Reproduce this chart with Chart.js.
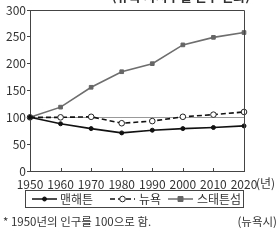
<!DOCTYPE html>
<html><head><meta charset="utf-8">
<script src="https://cdn.jsdelivr.net/npm/chart.js@4"></script>
<style>html,body{margin:0;padding:0;background:#fff;}#wrap{width:278px;height:241px;position:relative;}</style>
</head><body><div id="wrap"><canvas id="c" width="278" height="241"></canvas></div>
<script>
const years = ['1950','1960','1970','1980','1990','2000','2010','2020'];
const manhattan = [100, 88, 79, 71, 76, 79, 81, 84];
const newYork = [100, 100, 101, 89, 93, 101, 105, 110];
const statenIsland = [100, 119, 156, 185, 200, 235, 249, 258];
const yTicks = [0, 50, 100, 150, 200, 250, 300];
const seriesNames = ['맨해튼', '뉴욕', '스태튼섬'];
const yearUnit = '(년)';
const titleText = '(뉴욕 자치구별 인구 변화)';
const noteText = '* 1950년의 인구를 100으로 함.';
const sourceText = '(뉴욕시)';

const FONT = '"Noto Sans CJK KR", "Noto Sans", sans-serif';
const TXT = '#333';

const extras = {
  id: 'extras',
  afterDraw(chart) {
    const {ctx, chartArea: a, scales} = chart;
    ctx.save();
    ctx.strokeStyle = '#444'; ctx.lineWidth = 1;
    ctx.beginPath();
    ctx.moveTo(a.left, a.top + 0.5); ctx.lineTo(a.right + 0.5, a.top + 0.5); ctx.lineTo(a.right + 0.5, a.bottom);
    ctx.stroke();
    ctx.beginPath();
    years.forEach((y, i) => {
      const x = Math.round(scales.x.getPixelForValue(i)) + 0.5;
      ctx.moveTo(x, a.bottom); ctx.lineTo(x, a.bottom - 3);
    });
    ctx.stroke();
    ctx.fillStyle = TXT;
    ctx.font = '12px ' + FONT;
    ctx.textBaseline = 'middle';
    ctx.textAlign = 'left';
    const lx = scales.x.getPixelForValue(years.length - 1);
    ctx.fillText(yearUnit, lx + 12, 183);
    ctx.font = 'bold 13px ' + FONT;
    ctx.textAlign = 'center'; ctx.textBaseline = 'alphabetic';
    ctx.fillText(titleText, 181, 1);
    const ly = 199;
    ctx.strokeStyle = '#444';
    ctx.strokeRect(25.5, 190.5, 218, 17);
    const ds = chart.data.datasets;
    const items = [
      {x0: 32, x1: 57, tx: 60},
      {x0: 110, x1: 135, tx: 139},
      {x0: 168, x1: 193, tx: 197}
    ];
    items.forEach((it, i) => {
      const d = ds[i];
      ctx.strokeStyle = d.borderColor; ctx.lineWidth = 1.5;
      ctx.setLineDash(d.borderDash || []);
      ctx.beginPath(); ctx.moveTo(it.x0, ly); ctx.lineTo(it.x1, ly); ctx.stroke();
      ctx.setLineDash([]);
      const cx = (it.x0 + it.x1) / 2;
      ctx.fillStyle = d.pointBackgroundColor; ctx.strokeStyle = d.pointBorderColor; ctx.lineWidth = 1;
      ctx.beginPath();
      if (d.pointStyle === 'rect') { ctx.rect(cx - 2.5, ly - 2.5, 5, 5); }
      else { ctx.arc(cx, ly, d.pointRadius, 0, Math.PI * 2); }
      ctx.fill(); ctx.stroke();
      ctx.fillStyle = TXT; ctx.font = '12px ' + FONT; ctx.textAlign = 'left'; ctx.textBaseline = 'middle';
      ctx.fillText(seriesNames[i], it.tx, ly);
    });
    ctx.font = '11.5px ' + FONT; ctx.fillStyle = TXT;
    ctx.textAlign = 'left'; ctx.fillText(noteText, 3, 222);
    ctx.textAlign = 'right'; ctx.fillText(sourceText, 277, 222);
    ctx.restore();
  }
};

new Chart(document.getElementById('c'), {
  type: 'line',
  data: {
    labels: years,
    datasets: [
      {label: seriesNames[0], data: manhattan, borderColor: '#111', borderWidth: 1.6,
       pointStyle: 'circle', pointRadius: 2, pointBackgroundColor: '#111', pointBorderColor: '#111', pointBorderWidth: 1, tension: 0},
      {label: seriesNames[1], data: newYork, borderColor: '#111', borderWidth: 1.6, borderDash: [5, 3],
       pointStyle: 'circle', pointRadius: 2.8, pointBackgroundColor: '#fff', pointBorderColor: '#222', pointBorderWidth: 1, tension: 0},
      {label: seriesNames[2], data: statenIsland, borderColor: '#6e6e6e', borderWidth: 1.6,
       pointStyle: 'rect', pointRadius: 2.6, pointBackgroundColor: '#666', pointBorderColor: '#666', pointBorderWidth: 1, tension: 0}
    ]
  },
  options: {
    responsive: false, animation: false, devicePixelRatio: 1,
    layout: {padding: {left: 0, right: 34, top: 10, bottom: 0}},
    plugins: {legend: {display: false}, tooltip: {enabled: false}},
    scales: {
      x: {
        offset: false,
        grid: {display: false, drawTicks: false},
        border: {display: true, color: '#444', width: 1},
        ticks: {color: TXT, font: {family: FONT, size: 12}, padding: 6, maxRotation: 0, autoSkip: false},
        afterFit(s) { s.height = 70; }
      },
      y: {
        min: 0, max: 300,
        afterBuildTicks(s) { s.ticks = yTicks.map(v => ({value: v})); },
        grid: {color: c => c.tick && c.tick.value === 100 ? '#999' : 'rgba(0,0,0,0)', tickColor: '#444', tickLength: 3, drawTicks: true},
        border: {display: true, color: '#444', width: 1},
        ticks: {color: TXT, font: {family: FONT, size: 12}, padding: 1},
        afterFit(s) { s.width = 30; }
      }
    }
  },
  plugins: [extras]
});
</script></body></html>
